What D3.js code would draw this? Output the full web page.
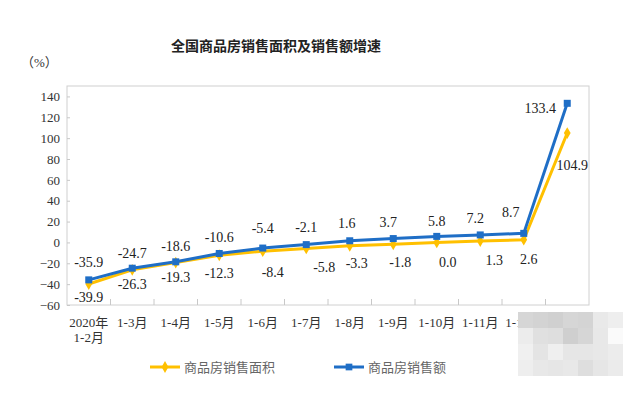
<!DOCTYPE html>
<html>
<head>
<meta charset="utf-8">
<script src="https://cdn.jsdelivr.net/npm/d3@7"></script>
<style>
  body { margin: 0; background: #fff; }
  svg { display: block; }
  text { font-family: "Liberation Serif", "Times New Roman", "Noto Sans CJK SC", serif; }
</style>
</head>
<body>
<script>
// categories along the x axis (2-line labels split by \n)
var months = ["2020年\n1-2月", "1-3月", "1-4月", "1-5月", "1-6月", "1-7月", "1-8月",
              "1-9月", "1-10月", "1-11月", "1-12月", "2021年\n1-2月"];
// 商品房销售面积 growth (%)
var areaGrowth = [-39.9, -26.3, -19.3, -12.3, -8.4, -5.8, -3.3, -1.8, 0.0, 1.3, 2.6, 104.9];
// 商品房销售额 growth (%)
var salesGrowth = [-35.9, -24.7, -18.6, -10.6, -5.4, -2.1, 1.6, 3.7, 5.8, 7.2, 8.7, 133.4];
var yTicks = [-60, -40, -20, 0, 20, 40, 60, 80, 100, 120, 140];

// label nudges (pixels), like the hand-placed labels in the original
var salesDx = [0, 0, 0, 0, 0, 0, -3, -5, 0, -5, -13, -27];
var salesDy = [-13, -10, -11, -11, -15, -13, -13, -12, -10, -12, -16, 10];
var areaDx = [0, 0, 0, 0, 10, 18, 7, 7, 11, 14, 5, 5];
var areaDy = [18, 19, 19, 23, 26, 24, 22, 23, 25, 24, 24, 37];

var blue = "#1f6ec6", yellow = "#ffc000";

var svg = d3.select("body").append("svg")
    .attr("width", 640)
    .attr("height", 396);

var x = d3.scaleBand().domain(months).range([67, 589]);
var y = d3.scaleLinear().domain([-60, 150]).range([305, 86]);
var cx = function(i) { return x(months[i]) + x.bandwidth() / 2; };

// title
svg.append("text")
    .attr("x", 276).attr("y", 51)
    .attr("text-anchor", "middle")
    .style("font-family", "'Noto Sans CJK SC', sans-serif")
    .style("font-size", "14px")
    .style("font-weight", "bold")
    .attr("fill", "#222")
    .text("全国商品房销售面积及销售额增速");

svg.append("text")
    .attr("x", 21).attr("y", 67)
    .style("font-size", "13px")
    .attr("fill", "#333")
    .text("（%）");

// plot frame
svg.append("rect")
    .attr("x", 67).attr("y", 86)
    .attr("width", 522).attr("height", 219)
    .attr("fill", "none")
    .attr("stroke", "#d0d0d0");

// y axis
var yAxis = svg.append("g").attr("transform", "translate(67,0)")
    .call(d3.axisLeft(y).tickValues(yTicks).tickSize(-3).tickPadding(7));
yAxis.select(".domain").remove();
yAxis.selectAll("line").attr("stroke", "#c8c8c8");
yAxis.selectAll("text")
    .style("font-family", "'Liberation Serif', serif")
    .style("font-size", "13px")
    .attr("fill", "#333");

// x axis: tick marks at the band edges, pointing up
var edges = months.slice(1).map(function(m) { return x(m); });
svg.append("g").selectAll("line")
    .data(edges).enter().append("line")
    .attr("x1", function(d) { return d; }).attr("x2", function(d) { return d; })
    .attr("y1", 299).attr("y2", 305)
    .attr("stroke", "#c8c8c8");

var xl = svg.append("g").selectAll("text")
    .data(months).enter().append("text")
    .attr("x", function(d) { return x(d) + x.bandwidth() / 2; })
    .attr("y", 327)
    .attr("text-anchor", "middle")
    .style("font-size", "13px")
    .attr("fill", "#333");
xl.each(function(d) {
  var t = d3.select(this);
  d.split("\n").forEach(function(s, k) {
    t.append("tspan").attr("x", t.attr("x")).attr("dy", k ? 15 : 0).text(s);
  });
});

// lines
var line = d3.line()
    .x(function(d, i) { return cx(i); })
    .y(function(d) { return y(d); });

svg.append("path").datum(areaGrowth)
    .attr("d", line)
    .attr("fill", "none")
    .attr("stroke", yellow)
    .attr("stroke-width", 3);

svg.append("path").datum(salesGrowth)
    .attr("d", line)
    .attr("fill", "none")
    .attr("stroke", blue)
    .attr("stroke-width", 3);

// markers
svg.append("g").selectAll("path")
    .data(areaGrowth).enter().append("path")
    .attr("d", d3.symbol().type(d3.symbolDiamond).size(40))
    .attr("transform", function(d, i) { return "translate(" + cx(i) + "," + y(d) + ")"; })
    .attr("fill", yellow);

svg.append("g").selectAll("rect")
    .data(salesGrowth).enter().append("rect")
    .attr("x", function(d, i) { return cx(i) - 3.5; })
    .attr("y", function(d) { return y(d) - 3.5; })
    .attr("width", 7).attr("height", 7)
    .attr("fill", blue);

// data labels
svg.append("g").selectAll("text")
    .data(salesGrowth).enter().append("text")
    .attr("x", function(d, i) { return cx(i) + salesDx[i]; })
    .attr("y", function(d, i) { return y(d) + salesDy[i]; })
    .attr("text-anchor", "middle")
    .style("font-size", "14px")
    .attr("fill", "#222")
    .text(function(d) { return d.toFixed(1); });

svg.append("g").selectAll("text")
    .data(areaGrowth).enter().append("text")
    .attr("x", function(d, i) { return cx(i) + areaDx[i]; })
    .attr("y", function(d, i) { return y(d) + areaDy[i]; })
    .attr("text-anchor", "middle")
    .style("font-size", "14px")
    .attr("fill", "#222")
    .text(function(d) { return d.toFixed(1); });

// legend
var legend = [
  {name: "商品房销售面积", color: yellow, x: 150, diamond: true},
  {name: "商品房销售额", color: blue, x: 334, diamond: false}
];
var lg = svg.append("g").selectAll("g")
    .data(legend).enter().append("g")
    .attr("transform", function(d) { return "translate(" + d.x + ",367)"; });
lg.append("line")
    .attr("x1", 0).attr("x2", 30)
    .attr("stroke", function(d) { return d.color; })
    .attr("stroke-width", 3);
lg.append("path")
    .attr("d", function(d) {
      return d3.symbol().type(d.diamond ? d3.symbolDiamond : d3.symbolSquare).size(d.diamond ? 40 : 45)();
    })
    .attr("transform", "translate(15,0)")
    .attr("fill", function(d) { return d.color; });
lg.append("text")
    .attr("x", 34).attr("y", 5)
    .style("font-family", "'Noto Sans CJK SC', sans-serif")
    .style("font-size", "13px")
    .attr("fill", "#666")
    .text(function(d) { return d.name; });

// the pixelated patch that covers the last labels in the source image
var mosaic = [
  ["#d6d6d6", "#d3d3d3", "#d0d0d0", "#d6d6d6", "#d4d4d4", "#e9e9e9", "#eeeeee"],
  ["#ececec", "#e0e0e0", "#dedede", "#cfcfcf", "#d6d6d6", "#e8e8e8", "#fafafa"],
  ["#f0f0f0", "#e4e4e4", "#efefef", "#e6e6e6", "#e6e6e6", "#e8e8e8", "#ececec"],
  ["#eeeeee", "#e8e8e8", "#e6e6e6", "#e8e8e8", "#dedede", "#e6e6e6", "#ebebeb"]
];
mosaic.forEach(function(row, r) {
  row.forEach(function(c, k) {
    svg.append("rect")
        .attr("x", 518 + k * 15).attr("y", 312 + r * 16)
        .attr("width", 15).attr("height", 16)
        .attr("fill", c);
  });
});
</script>
</body>
</html>
